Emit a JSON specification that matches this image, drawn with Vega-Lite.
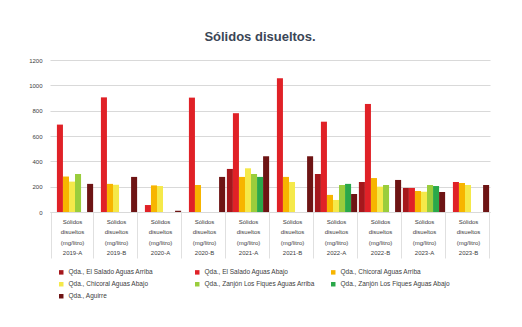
{
  "$schema": "https://vega.github.io/schema/vega-lite/v6.json",
  "autosize": "none",
  "width": 440,
  "height": 152,
  "padding": {"left": 50, "top": 60, "right": 32, "bottom": 115},
  "background": "#FFFFFF",
  "title": {"text": "Sólidos disueltos.", "fontSize": 13, "fontWeight": "bold", "color": "#3B4656", "font": "Liberation Sans", "anchor": "middle", "offset": 13, "dx": -10},
  "config": {
    "view": {"stroke": null},
    "font": "Liberation Sans"
  },
  "data": {
    "values": [
      {"periodo": "2019-A", "estacion": "Qda., El Salado Aguas Abajo", "valor": 690},
      {"periodo": "2019-A", "estacion": "Qda., Chicoral Aguas Arriba", "valor": 280},
      {"periodo": "2019-A", "estacion": "Qda., Chicoral Aguas Abajo", "valor": 240},
      {"periodo": "2019-A", "estacion": "Qda., Zanjón Los Fiques Aguas Arriba", "valor": 300},
      {"periodo": "2019-A", "estacion": "Qda., Aguirre", "valor": 222},

      {"periodo": "2019-B", "estacion": "Qda., El Salado Aguas Abajo", "valor": 905},
      {"periodo": "2019-B", "estacion": "Qda., Chicoral Aguas Arriba", "valor": 222},
      {"periodo": "2019-B", "estacion": "Qda., Chicoral Aguas Abajo", "valor": 215},
      {"periodo": "2019-B", "estacion": "Qda., Aguirre", "valor": 277},

      {"periodo": "2020-A", "estacion": "Qda., El Salado Aguas Abajo", "valor": 55},
      {"periodo": "2020-A", "estacion": "Qda., Chicoral Aguas Arriba", "valor": 210},
      {"periodo": "2020-A", "estacion": "Qda., Chicoral Aguas Abajo", "valor": 205},
      {"periodo": "2020-A", "estacion": "Qda., Aguirre", "valor": 10},

      {"periodo": "2020-B", "estacion": "Qda., El Salado Aguas Abajo", "valor": 903},
      {"periodo": "2020-B", "estacion": "Qda., Chicoral Aguas Arriba", "valor": 213},
      {"periodo": "2020-B", "estacion": "Qda., Aguirre", "valor": 277},

      {"periodo": "2021-A", "estacion": "Qda., El Salado Aguas Arriba", "valor": 340},
      {"periodo": "2021-A", "estacion": "Qda., El Salado Aguas Abajo", "valor": 780},
      {"periodo": "2021-A", "estacion": "Qda., Chicoral Aguas Arriba", "valor": 277},
      {"periodo": "2021-A", "estacion": "Qda., Chicoral Aguas Abajo", "valor": 345},
      {"periodo": "2021-A", "estacion": "Qda., Zanjón Los Fiques Aguas Arriba", "valor": 300},
      {"periodo": "2021-A", "estacion": "Qda., Zanjón Los Fiques Aguas Abajo", "valor": 277},
      {"periodo": "2021-A", "estacion": "Qda., Aguirre", "valor": 440},

      {"periodo": "2021-B", "estacion": "Qda., El Salado Aguas Abajo", "valor": 1055},
      {"periodo": "2021-B", "estacion": "Qda., Chicoral Aguas Arriba", "valor": 277},
      {"periodo": "2021-B", "estacion": "Qda., Chicoral Aguas Abajo", "valor": 237},
      {"periodo": "2021-B", "estacion": "Qda., Aguirre", "valor": 440},

      {"periodo": "2022-A", "estacion": "Qda., El Salado Aguas Arriba", "valor": 300},
      {"periodo": "2022-A", "estacion": "Qda., El Salado Aguas Abajo", "valor": 713},
      {"periodo": "2022-A", "estacion": "Qda., Chicoral Aguas Arriba", "valor": 135},
      {"periodo": "2022-A", "estacion": "Qda., Chicoral Aguas Abajo", "valor": 95},
      {"periodo": "2022-A", "estacion": "Qda., Zanjón Los Fiques Aguas Arriba", "valor": 213},
      {"periodo": "2022-A", "estacion": "Qda., Zanjón Los Fiques Aguas Abajo", "valor": 222},
      {"periodo": "2022-A", "estacion": "Qda., Aguirre", "valor": 142},

      {"periodo": "2022-B", "estacion": "Qda., El Salado Aguas Arriba", "valor": 237},
      {"periodo": "2022-B", "estacion": "Qda., El Salado Aguas Abajo", "valor": 853},
      {"periodo": "2022-B", "estacion": "Qda., Chicoral Aguas Arriba", "valor": 268},
      {"periodo": "2022-B", "estacion": "Qda., Chicoral Aguas Abajo", "valor": 200},
      {"periodo": "2022-B", "estacion": "Qda., Zanjón Los Fiques Aguas Arriba", "valor": 213},
      {"periodo": "2022-B", "estacion": "Qda., Aguirre", "valor": 253},

      {"periodo": "2023-A", "estacion": "Qda., El Salado Aguas Arriba", "valor": 190},
      {"periodo": "2023-A", "estacion": "Qda., El Salado Aguas Abajo", "valor": 190},
      {"periodo": "2023-A", "estacion": "Qda., Chicoral Aguas Arriba", "valor": 166},
      {"periodo": "2023-A", "estacion": "Qda., Chicoral Aguas Abajo", "valor": 160},
      {"periodo": "2023-A", "estacion": "Qda., Zanjón Los Fiques Aguas Arriba", "valor": 213},
      {"periodo": "2023-A", "estacion": "Qda., Zanjón Los Fiques Aguas Abajo", "valor": 205},
      {"periodo": "2023-A", "estacion": "Qda., Aguirre", "valor": 158},

      {"periodo": "2023-B", "estacion": "Qda., El Salado Aguas Abajo", "valor": 237},
      {"periodo": "2023-B", "estacion": "Qda., Chicoral Aguas Arriba", "valor": 229},
      {"periodo": "2023-B", "estacion": "Qda., Chicoral Aguas Abajo", "valor": 213},
      {"periodo": "2023-B", "estacion": "Qda., Aguirre", "valor": 213}
    ]
  },
  "mark": {"type": "bar"},
  "encoding": {
    "x": {
      "field": "periodo",
      "type": "nominal",
      "sort": null,
      "scale": {"paddingInner": 0.04, "paddingOuter": 0.02},
      "axis": {
        "title": null,
        "labelAngle": 0,
        "labelAlign": "center",
        "labelBaseline": "top",
        "labelFlush": false,
        "labelOverlap": false,
        "labelBound": false,
        "labelFontSize": 6,
        "labelColor": "#404040",
        "labelLineHeight": 10.5,
        "labelPadding": -40,
        "labelExpr": "datum.value ? ['Sólidos', 'disueltos', '(mg/litro)', datum.value] : ''",
        "domainColor": "#D9D9D9",
        "tickBand": "extent",
        "tickSize": 46,
        "tickColor": "#E0E0E0"
      }
    },
    "xOffset": {
      "field": "estacion",
      "type": "nominal",
      "sort": ["Qda., El Salado Aguas Arriba", "Qda., El Salado Aguas Abajo", "Qda., Chicoral Aguas Arriba", "Qda., Chicoral Aguas Abajo", "Qda., Zanjón Los Fiques Aguas Arriba", "Qda., Zanjón Los Fiques Aguas Abajo", "Qda., Aguirre"]
    },
    "y": {
      "field": "valor",
      "type": "quantitative",
      "scale": {"domain": [0, 1200]},
      "axis": {
        "title": null,
        "values": [0, 200, 400, 600, 800, 1000, 1200],
        "format": "d",
        "labelFontSize": 6,
        "labelColor": "#404040",
        "domain": false,
        "ticks": false,
        "labelPadding": 8,
        "gridColor": "#D9D9D9"
      }
    },
    "color": {
      "field": "estacion",
      "type": "nominal",
      "sort": ["Qda., El Salado Aguas Arriba", "Qda., El Salado Aguas Abajo", "Qda., Chicoral Aguas Arriba", "Qda., Chicoral Aguas Abajo", "Qda., Zanjón Los Fiques Aguas Arriba", "Qda., Zanjón Los Fiques Aguas Abajo", "Qda., Aguirre"],
      "scale": {
        "domain": ["Qda., El Salado Aguas Arriba", "Qda., El Salado Aguas Abajo", "Qda., Chicoral Aguas Arriba", "Qda., Chicoral Aguas Abajo", "Qda., Zanjón Los Fiques Aguas Arriba", "Qda., Zanjón Los Fiques Aguas Abajo", "Qda., Aguirre"],
        "range": ["#A5171C", "#E02127", "#F7B500", "#F5E94A", "#9ACD3C", "#2AA84A", "#6E1414"]
      },
      "legend": {
        "title": null,
        "orient": "bottom",
        "direction": "horizontal",
        "columns": 3,
        "gridAlign": "all",
        "symbolType": "square",
        "symbolSize": 20,
        "labelFontSize": 6.5,
        "labelColor": "#404040",
        "labelLimit": 220,
        "columnPadding": 14,
        "rowPadding": 5,
        "padding": 8,
        "offset": 2
      }
    }
  }
}
